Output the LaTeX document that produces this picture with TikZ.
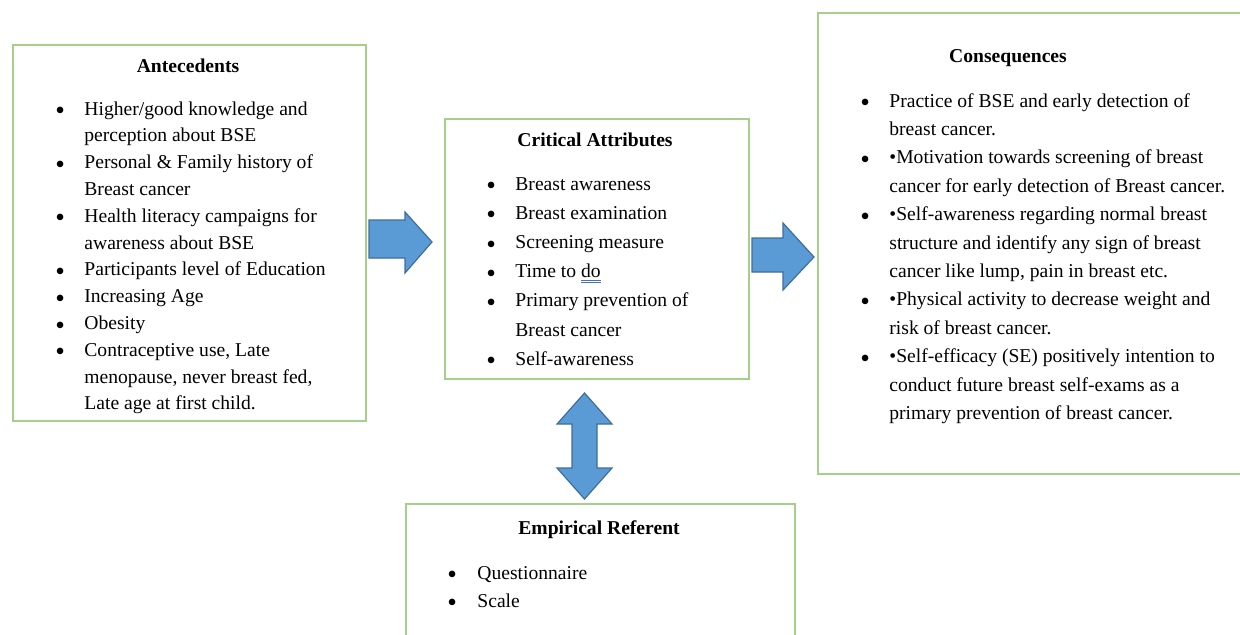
\documentclass[tikz,border=0pt]{standalone}
\usepackage{fontspec}
\usepackage{graphicx}
\setmainfont{Liberation Serif}
\definecolor{boxgreen}{HTML}{A6CF8A}
\definecolor{arrfill}{HTML}{5B9BD5}
\definecolor{arrdraw}{HTML}{3F6E9C}
\definecolor{spell}{HTML}{4472C4}
\newcommand\bul{\raisebox{-2.3pt}{\scalebox{1.4}{\char"2022}}}
\newcommand\dul[1]{\setbox0\hbox{#1}\rlap{\color{spell}\rule[-1.6pt]{\wd0}{0.4pt}}\rlap{\color{spell}\rule[-2.7pt]{\wd0}{0.4pt}}#1}
\tikzset{
  boxframe/.style={draw=boxgreen, line width=0.8pt, inner sep=0pt, anchor=north west},
  blockarrow/.style={fill=arrfill, draw=arrdraw, line width=0.6pt, line join=miter},
  titletext/.style={font=\fontsize{9.8}{12}\selectfont\bfseries, inner sep=0pt, anchor=base},
  listtext/.style={inner sep=0pt, anchor=base west}
}
\begin{document}
\begin{tikzpicture}[x=0.5pt,y=-0.5pt]
\useasboundingbox (0,0) rectangle (1240,634);
% boxes
\node[boxframe, minimum width=176.5pt, minimum height=188pt] (ante) at (12,44) {};
\node[boxframe, minimum width=152pt, minimum height=130pt] (crit) at (444,118) {};
\node[boxframe, minimum width=220pt, minimum height=230.5pt] (cons) at (817,12) {};
\node[boxframe, minimum width=194.5pt, minimum height=80pt] (emp) at (405,503) {};
% titles
\node[titletext] (anteT) at (188,72) {Antecedents};
\node[titletext] (critT) at (595,146) {Critical Attributes};
\node[titletext] (consT) at (1008,62) {Consequences};
\node[titletext] (empT) at (599,534) {Empirical Referent};
% lists
\node[listtext] (anteL) at (55,115) {\fontsize{9.8}{13.4}\selectfont
\begin{tabular}[t]{@{}p{14.5pt}@{}l@{}}
\bul & Higher/good knowledge and\\
 & perception about BSE\\
\bul & Personal \& Family history of\\
 & Breast cancer\\
\bul & Health literacy campaigns for\\
 & awareness about BSE\\
\bul & Participants level of Education\\
\bul & Increasing Age\\
\bul & Obesity\\
\bul & Contraceptive use, Late\\
 & menopause, never breast fed,\\
 & Late age at first child.
\end{tabular}};
\node[listtext] (critL) at (486,190) {\fontsize{9.8}{14.6}\selectfont
\begin{tabular}[t]{@{}p{14.5pt}@{}l@{}}
\bul & Breast awareness\\
\bul & Breast examination\\
\bul & Screening measure\\
\bul & Time to \dul{do}\\
\bul & Primary prevention of\\
 & Breast cancer\\
\bul & Self-awareness
\end{tabular}};
\node[listtext] (consL) at (860,107) {\fontsize{9.8}{14.2}\selectfont
\begin{tabular}[t]{@{}p{14.5pt}@{}l@{}}
\bul & Practice of BSE and early detection of\\
 & breast cancer.\\
\bul & \char"2022Motivation towards screening of breast\\
 & cancer for early detection of Breast cancer.\\
\bul & \char"2022Self-awareness regarding normal breast\\
 & structure and identify any sign of breast\\
 & cancer like lump, pain in breast etc.\\
\bul & \char"2022Physical activity to decrease weight and\\
 & risk of breast cancer.\\
\bul & \char"2022Self-efficacy (SE) positively intention to\\
 & conduct future breast self-exams as a\\
 & primary prevention of breast cancer.
\end{tabular}};
\node[listtext] (empL) at (447,579) {\fontsize{9.8}{14}\selectfont
\begin{tabular}[t]{@{}p{15pt}@{}l@{}}
\bul & Questionnaire\\
\bul & Scale
\end{tabular}};
% block arrows
\draw[blockarrow] (369,220) -- (405,220) -- (405,212) -- (432,242) -- (405,273) -- (405,258) -- (369,258) -- cycle;
\draw[blockarrow] (752,238) -- (783,238) -- (783,223) -- (814,257) -- (783,290) -- (783,272) -- (752,272) -- cycle;
\draw[blockarrow] (584.5,393) -- (612,424) -- (597,424) -- (597,468) -- (612,468) -- (584.5,499) -- (557,468) -- (572,468) -- (572,424) -- (557,424) -- cycle;
\end{tikzpicture}
\end{document}
